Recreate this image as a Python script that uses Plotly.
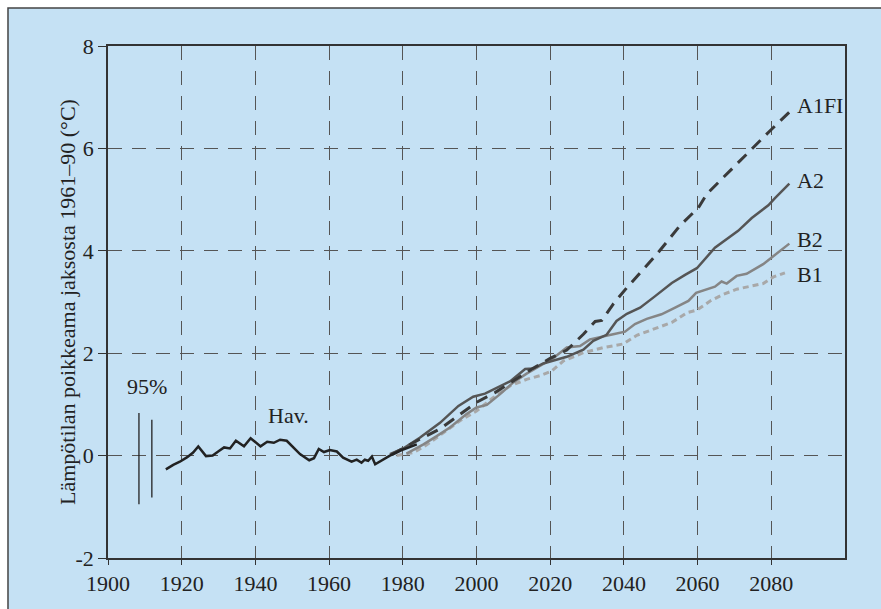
import plotly.graph_objects as go

# Observed temperature anomaly (Hav.)
obs_years = [1915.7, 1917.7, 1919.5, 1921.5, 1923.1, 1924.5, 1926.6, 1928.4, 1929.9, 1931.5,
             1933.1, 1934.7, 1936.9, 1938.7, 1941.4, 1943.2, 1945.0, 1946.7, 1948.5, 1950.1,
             1952.1, 1954.6, 1955.9, 1957.2, 1958.6, 1960.2, 1962.1, 1963.8, 1966.1, 1967.5,
             1968.8, 1969.7, 1970.6, 1971.6, 1972.5, 1976.5, 1980.1, 1983.8]
obs_vals = [-0.27, -0.18, -0.12, -0.03, 0.06, 0.18, -0.01, 0.00, 0.08, 0.16,
            0.14, 0.29, 0.18, 0.34, 0.18, 0.27, 0.25, 0.31, 0.29, 0.18,
            0.03, -0.09, -0.05, 0.13, 0.07, 0.11, 0.08, -0.04, -0.12, -0.08,
            -0.14, -0.08, -0.10, -0.02, -0.17, 0.00, 0.12, 0.22]

# Scenario projections
a1fi_years = [1977.0, 1984.6, 1990.1, 1995.5, 2000.0, 2005.0, 2010.0, 2015.0, 2020.0, 2024.5,
              2029.0, 2032.2, 2034.0, 2037.1, 2040.8, 2045.3, 2048.9, 2055.2, 2060.2, 2062.5,
              2067.9, 2072.4, 2076.0, 2079.6, 2085.5]
a1fi_vals = [0.02, 0.32, 0.52, 0.81, 1.04, 1.23, 1.46, 1.69, 1.90, 2.06,
             2.37, 2.62, 2.64, 2.96, 3.28, 3.64, 3.93, 4.49, 4.84, 5.11,
             5.50, 5.82, 6.08, 6.34, 6.75]

a2_years = [1976.5, 1980.1, 1984.6, 1990.1, 1995.1, 1999.1, 2002.3, 2005.5, 2009.1, 2013.2,
            2015.4, 2018.1, 2020.8, 2024.5, 2029.0, 2031.7, 2035.3, 2038.0, 2040.8, 2044.4,
            2048.4, 2053.0, 2056.6, 2059.8, 2064.7, 2071.0, 2074.7, 2079.2, 2081.0, 2084.9]
a2_vals = [0.03, 0.14, 0.35, 0.64, 0.97, 1.15, 1.21, 1.33, 1.45, 1.69,
           1.70, 1.80, 1.86, 1.93, 2.07, 2.24, 2.36, 2.63, 2.77, 2.89,
           3.11, 3.37, 3.53, 3.66, 4.06, 4.39, 4.64, 4.89, 5.03, 5.31]

b2_years = [1981.0, 1985.6, 1989.2, 1992.8, 1997.3, 2000.0, 2002.8, 2006.4, 2010.0, 2013.6,
            2017.2, 2020.8, 2024.5, 2028.1, 2030.8, 2034.4, 2037.1, 2040.3, 2043.0, 2046.2,
            2050.2, 2053.9, 2057.5, 2059.6, 2061.5, 2064.7, 2066.5, 2067.9, 2070.6, 2073.3,
            2077.8, 2080.6, 2084.9]
b2_vals = [0.04, 0.22, 0.38, 0.55, 0.81, 0.94, 0.99, 1.20, 1.43, 1.60,
           1.75, 1.90, 2.11, 2.14, 2.27, 2.32, 2.37, 2.42, 2.57, 2.67,
           2.76, 2.89, 3.02, 3.18, 3.22, 3.30, 3.40, 3.36, 3.51, 3.55,
           3.74, 3.90, 4.14]

b1_years = [1978.3, 1982.9, 1986.5, 1991.0, 1995.5, 2000.0, 2004.5, 2009.1, 2013.6, 2017.2,
            2020.4, 2023.6, 2029.0, 2034.4, 2039.8, 2043.5, 2049.3, 2053.0, 2057.1, 2059.8,
            2063.4, 2067.0, 2070.6, 2074.2, 2077.8, 2080.6, 2083.7]
b1_vals = [0.00, 0.06, 0.21, 0.45, 0.68, 0.87, 1.13, 1.36, 1.49, 1.56,
           1.65, 1.85, 2.01, 2.11, 2.18, 2.35, 2.50, 2.60, 2.79, 2.84,
           3.02, 3.15, 3.25, 3.31, 3.36, 3.49, 3.57]

# 95 % confidence ranges
ci_years = [1908.4, 1911.9]
ci_center = [-0.06, -0.06]
ci_half = [0.89, 0.76]

x_ticks = [1900, 1920, 1940, 1960, 1980, 2000, 2020, 2040, 2060, 2080]
y_ticks = [-2, 0, 2, 4, 6, 8]
y_tick_text = ["-2", "0", "2", "4", "6", "8"]

SERIF = "Liberation Serif"
BG = "#c5e1f4"
TXT = "#222222"
FS = 22

fig = go.Figure()

# confidence bars as vertical segments
ci_x, ci_y = [], []
for yr, c, h in zip(ci_years, ci_center, ci_half):
    ci_x += [yr, yr, None]
    ci_y += [c - h, c + h, None]
fig.add_trace(go.Scatter(x=ci_x, y=ci_y, mode="lines",
                         line=dict(color="#222222", width=1.3), hoverinfo="skip"))

fig.add_trace(go.Scatter(x=b1_years, y=b1_vals, mode="lines", name="B1",
                         line=dict(color="#a8a8a8", width=3, dash="6px,4px")))
fig.add_trace(go.Scatter(x=b2_years, y=b2_vals, mode="lines", name="B2",
                         line=dict(color="#858585", width=2.5)))
fig.add_trace(go.Scatter(x=a2_years, y=a2_vals, mode="lines", name="A2",
                         line=dict(color="#555555", width=2.5)))
fig.add_trace(go.Scatter(x=a1fi_years, y=a1fi_vals, mode="lines", name="A1FI",
                         line=dict(color="#3a3a3a", width=3, dash="12px,8px")))
fig.add_trace(go.Scatter(x=obs_years, y=obs_vals, mode="lines", name="Hav.",
                         line=dict(color="#222222", width=2.5)))

labels = [("A1FI", 2086.4, 6.83), ("A2", 2086.4, 5.38), ("B2", 2086.4, 4.23),
          ("B1", 2086.4, 3.53), ("Hav.", 1942.9, 0.78), ("95%", 1904.6, 1.34)]
for txt, lx, ly in labels:
    fig.add_annotation(x=lx, y=ly, xref="x", yref="y", text=txt, showarrow=False,
                       xanchor="left", yanchor="middle",
                       font=dict(family=SERIF, size=FS, color=TXT))

fig.add_annotation(x=-0.0556, y=0.5, xref="paper", yref="paper",
                   text="Lämpötilan poikkeama jaksosta 1961–90 (°C)", textangle=-90,
                   showarrow=False, xanchor="center", yanchor="middle",
                   font=dict(family=SERIF, size=FS, color=TXT))

# outer panel frame
fig.add_shape(type="rect", xref="paper", yref="paper",
              x0=-0.1357, y0=-0.2, x1=1.2, y1=1.0742,
              line=dict(color="#444444", width=1.5), fillcolor=BG, layer="below")

fig.update_layout(
    width=881, height=609,
    margin=dict(l=108, r=36, t=46, b=51),
    paper_bgcolor="white", plot_bgcolor=BG,
    showlegend=False,
    font=dict(family=SERIF, size=FS, color=TXT),
)
fig.update_xaxes(range=[1900, 2100], tickvals=x_ticks, ticktext=[str(v) for v in x_ticks],
                 showgrid=True, gridcolor="#555555", gridwidth=1.4, griddash="14px,11px",
                 showline=True, linecolor="#333333", linewidth=1.5, mirror=True,
                 ticks="outside", ticklen=5, tickcolor="#333333", zeroline=False,
                 tickfont=dict(family=SERIF, size=FS, color=TXT))
fig.update_yaxes(range=[-2, 8], tickvals=y_ticks, ticktext=y_tick_text,
                 showgrid=True, gridcolor="#555555", gridwidth=1.4, griddash="14px,10px",
                 showline=True, linecolor="#333333", linewidth=1.5, mirror=True,
                 ticks="outside", ticklen=8, tickcolor="#333333", zeroline=False,
                 tickfont=dict(family=SERIF, size=FS, color=TXT))

fig.write_html("out.html")
